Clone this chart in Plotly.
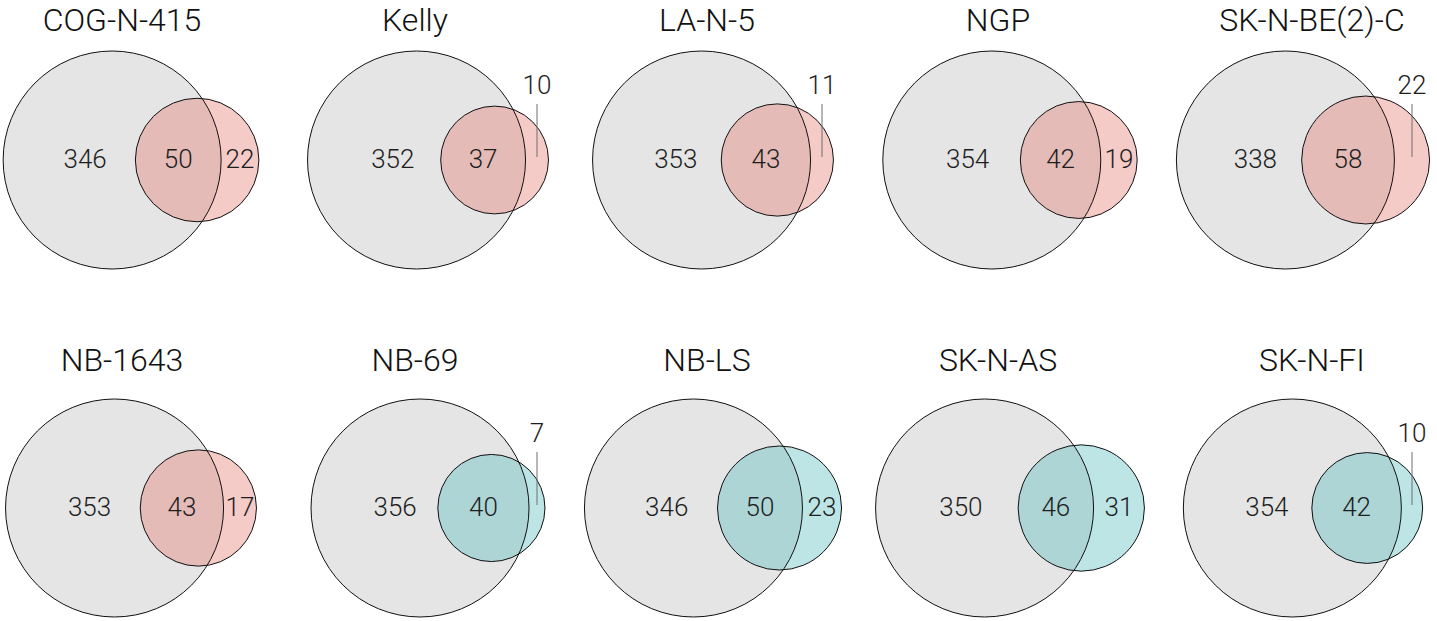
import numpy as np
import plotly.graph_objects as go

# Gene set overlaps per neuroblastoma cell line
cell_lines = ["COG-N-415", "Kelly", "LA-N-5", "NGP", "SK-N-BE(2)-C",
              "NB-1643", "NB-69", "NB-LS", "SK-N-AS", "SK-N-FI"]
only_big = [346, 352, 353, 354, 338, 353, 356, 346, 350, 354]
shared = [50, 37, 43, 42, 58, 43, 40, 50, 46, 42]
only_small = [22, 10, 11, 19, 22, 17, 7, 23, 31, 10]
group = ["amp", "amp", "amp", "amp", "amp", "amp",
         "non", "non", "non", "non"]

# ---- styling / layout ----
W, H = 1437, 621
FONT = "Roboto, 'Liberation Sans', Arial, sans-serif"
GREY = "rgb(229,229,229)"
SMALL_FILL = {"amp": "rgba(229,120,110,0.385)", "non": "rgba(83,188,190,0.385)"}
TEXT_COL = "#1e1e1e"
R_BIG = 109.0
diag_x = [131, 428, 713, 1010, 1303]
title_x = [122, 415, 707, 998, 1312]
row_cy = [160, 508]
title_y = [23, 363]
EXT_FRACTION = 0.28   # small-only share below which the count is pulled out on a leader
LABEL_PUSH = 1.4      # pushes the big-only count further from the overlap

shapes = []
lab_x, lab_y, lab_t = [], [], []
tit_x, tit_y, tit_t = [], [], []

gx = np.linspace(-1, 1, 401)
GX, GY = np.meshgrid(gx, gx)

for i, name in enumerate(cell_lines):
    row, col = divmod(i, 5)
    n_big = only_big[i] + shared[i]
    n_small = shared[i] + only_small[i]
    r1 = R_BIG
    r2 = R_BIG * (n_small / n_big) ** (1 / 3)
    frac_out = only_small[i] / n_small
    protrude = 2 * r2 * frac_out
    d = r1 - r2 + protrude

    cy = row_cy[row]
    bbox_mid = (d + r2 - r1) / 2
    cx1 = diag_x[col] - bbox_mid
    cx2 = cx1 + d

    # fills first, outlines on top
    shapes.append(dict(type="circle", xref="x", yref="y",
                       x0=cx1 - r1, x1=cx1 + r1, y0=cy - r1, y1=cy + r1,
                       fillcolor=GREY, line=dict(width=0), layer="below"))
    shapes.append(dict(type="circle", xref="x", yref="y",
                       x0=cx2 - r2, x1=cx2 + r2, y0=cy - r2, y1=cy + r2,
                       fillcolor=SMALL_FILL[group[i]], line=dict(width=0), layer="below"))
    for cx, r in ((cx1, r1), (cx2, r2)):
        shapes.append(dict(type="circle", xref="x", yref="y",
                           x0=cx - r, x1=cx + r, y0=cy - r, y1=cy + r,
                           fillcolor="rgba(0,0,0,0)",
                           line=dict(color="#111111", width=1), layer="above"))

    # big-only count, placed from the centroid of that region
    px = GX * r1
    py = GY * r1
    in_big = px ** 2 + py ** 2 <= r1 ** 2
    in_small = (px - d) ** 2 + py ** 2 <= r2 ** 2
    cent = px[in_big & ~in_small].mean()
    lab_x.append(cx1 + LABEL_PUSH * cent)
    lab_y.append(cy + 1)
    lab_t.append(str(only_big[i]))

    # overlap count in the middle of the lens
    lab_x.append(((cx2 - r2) + (cx1 + r1)) / 2)
    lab_y.append(cy + 1)
    lab_t.append(str(shared[i]))

    # small-only count, inside the crescent or on a leader line
    xm = ((cx1 + r1) + (cx2 + r2)) / 2
    if frac_out < EXT_FRACTION:
        shapes.append(dict(type="line", xref="x", yref="y",
                           x0=xm, x1=xm, y0=cy - 3, y1=cy - 56,
                           line=dict(color="#6f6f6f", width=1), layer="above"))
        lab_x.append(xm)
        lab_y.append(cy - 73)
    else:
        lab_x.append(xm)
        lab_y.append(cy + 1)
    lab_t.append(str(only_small[i]))

    tit_x.append(title_x[col])
    tit_y.append(title_y[row])
    tit_t.append(name)

fig = go.Figure()
fig.add_trace(go.Scatter(x=lab_x, y=lab_y, text=lab_t, mode="text",
                         textposition="middle center",
                         textfont=dict(family=FONT, size=26, color=TEXT_COL, weight=300),
                         hoverinfo="skip", showlegend=False))
fig.add_trace(go.Scatter(x=tit_x, y=tit_y, text=tit_t, mode="text",
                         textposition="middle center",
                         textfont=dict(family=FONT, size=32, color="#111111", weight=300),
                         hoverinfo="skip", showlegend=False))

fig.update_layout(
    width=W, height=H,
    margin=dict(l=0, r=0, t=0, b=0),
    paper_bgcolor="white", plot_bgcolor="white",
    shapes=shapes,
    xaxis=dict(range=[0, W], visible=False, fixedrange=True),
    yaxis=dict(range=[H, 0], visible=False, fixedrange=True),
)

fig.write_html("out.html")
